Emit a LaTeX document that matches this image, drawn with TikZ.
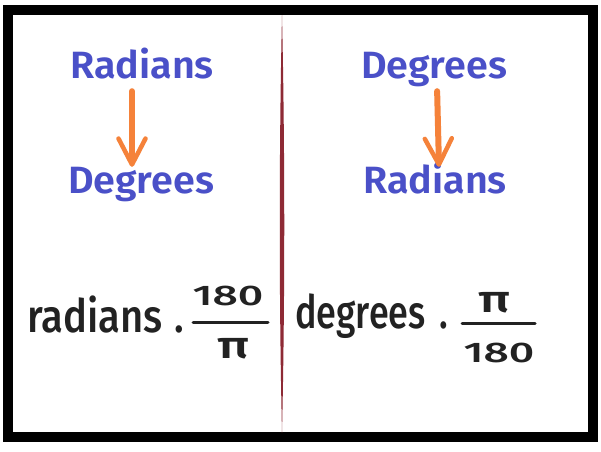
\documentclass[tikz,border=0pt]{standalone}
\usepackage{fontspec}
\setmainfont{Fira Sans}
\newfontfamily\markerfont{Fira Sans SemiBold}
\newfontfamily\inkfont{Fira Sans Medium}
\usepackage{xcolor}
\usetikzlibrary{arrows.meta,positioning}

\definecolor{wordblue}{HTML}{4A50C8}
\definecolor{arrorange}{HTML}{F5823A}
\definecolor{splitred}{HTML}{8E2A35}
\definecolor{inkblack}{HTML}{222222}

\begin{document}
\begin{tikzpicture}[
  x=1pt,y=-1pt,
  word/.style={text=wordblue,inner sep=0pt,text height=26pt,text depth=8pt,font=\markerfont\fontsize{38}{40}\selectfont,anchor=base},
  hand/.style={text=inkblack,inner sep=0pt,font=\inkfont\fontsize{40}{44}\selectfont,anchor=base west},
  digits/.style={text=inkblack,inner sep=0pt,font=\inkfont\fontsize{27}{30}\selectfont,anchor=base},
  piglyph/.style={text=inkblack,inner sep=0pt,font=\inkfont\fontsize{38}{40}\selectfont,anchor=base},
  arr/.style={draw=arrorange,line width=6pt,line cap=round,shorten <=5pt,
    -{Straight Barb[round,length=26pt,width=27pt,line width=4.5pt]}},
  fracbar/.style={draw=inkblack,line width=3pt,line cap=round}
]
\useasboundingbox (0,0) rectangle (601,451);
\fill[white] (0,0) rectangle (601,451);

% frame and divider
\draw[line width=10pt] (8,10) rectangle (593,437);
\fill[splitred] (282,15) .. controls (285,150) and (285,300) .. (282,433)
  .. controls (279,300) and (279,150) .. (282,15);

% left half: radians to degrees
\node[word] (lrad) at (142,78) {\scalebox{1.04}[1]{Radians}};
\node[word] (ldeg) at (141,193) {\scalebox{1.04}[1]{Degrees}};
\draw[arr] ([xshift=-10pt]lrad.south) -- ([xshift=-9pt]ldeg.north);

\node[hand] (lword) at (27,332) {\scalebox{1}[1.15]{radians\hspace{12pt}.}};
\node[digits] (lnum) at (228,305) {\scalebox{1.65}[1.05]{180}};
\coordinate (lbarA) at (193,322);
\coordinate (lbarB) at (268,322);
\draw[fracbar] (lbarA) -- (lbarB);
\node[piglyph] (lpi) at (234,358) {\scalebox{1.4}[1]{π}};

% right half: degrees to radians
\node[word] (rdeg) at (434,78) {\scalebox{1.04}[1]{Degrees}};
\node[word] (rrad) at (435,193) {\scalebox{1.04}[1]{Radians}};
\draw[arr] ([xshift=3pt]rdeg.south) -- ([xshift=4pt]rrad.north);

\node[hand] (rword) at (295,328) {\scalebox{0.9}[1.15]{degrees\hspace{15pt}.}};
\node[piglyph] (rpi) at (495,312) {\scalebox{1.4}[1]{π}};
\coordinate (rbarA) at (462,323);
\coordinate (rbarB) at (535,323);
\draw[fracbar] (rbarA) -- (rbarB);
\node[digits] (rnum) at (499,362) {\scalebox{1.65}[1.05]{180}};
\end{tikzpicture}
\end{document}
